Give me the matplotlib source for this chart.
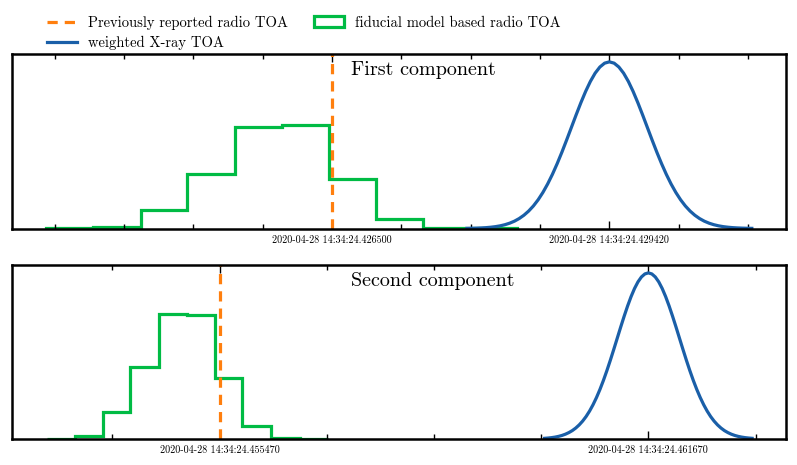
import numpy as np
import matplotlib
matplotlib.use("Agg")
import matplotlib.pyplot as plt
from matplotlib.lines import Line2D
from matplotlib.patches import Patch

plt.rcParams["font.family"] = ["cmr10", "DejaVu Serif"]
plt.rcParams["axes.unicode_minus"] = False
plt.rcParams["mathtext.fontset"] = "cm"

# ---- data (time offsets in ms from the reported radio TOA) ----
comp_names = ["First component", "Second component"]
radio_labels = ["2020-04-28 14:34:24.426500", "2020-04-28 14:34:24.455470"]
xray_labels = ["2020-04-28 14:34:24.429420", "2020-04-28 14:34:24.461670"]
xray_offset = [2.92, 6.20]          # ms, X-ray TOA - radio TOA
xlims = [(-3.37, 4.78), (-3.00, 8.19)]

# fiducial-model radio TOA histograms (bin edges in ms, heights rel. to X-ray peak)
hist1_edges = [-3.01, -2.52, -2.01, -1.53, -1.02, -0.53, -0.03, 0.46, 0.96, 1.45, 1.95]
hist1_vals = [0.002, 0.010, 0.110, 0.325, 0.611, 0.621, 0.299, 0.058, 0.004, 0.001]
hist2_edges = [-2.50, -2.09, -1.69, -1.29, -0.88, -0.47, -0.07, 0.33, 0.74, 1.16, 1.57]
hist2_vals = [0.001, 0.018, 0.160, 0.435, 0.753, 0.749, 0.369, 0.081, 0.006, 0.002]

# weighted X-ray TOA profiles: one symmetric half (|dt| from X-ray TOA in ms)
half_dt = [0.0, 0.05, 0.10, 0.15, 0.20, 0.25, 0.30, 0.35, 0.40, 0.45, 0.50,
           0.55, 0.60, 0.65, 0.70, 0.75, 0.80, 0.85, 0.90, 0.95, 1.00,
           1.05, 1.10, 1.15, 1.20, 1.25, 1.30, 1.35, 1.40, 1.45, 1.50]
prof1_half = [1.0, 0.9922, 0.9690, 0.9321, 0.8825, 0.8226, 0.7548, 0.6819,
              0.6065, 0.5311, 0.4578, 0.3886, 0.3247, 0.2671, 0.2163, 0.1724,
              0.1353, 0.1046, 0.0796, 0.0596, 0.0439, 0.0319, 0.0228, 0.0160,
              0.0111, 0.0076, 0.0051, 0.0034, 0.0022, 0.0014, 0.0009]
prof2_half = [1.0, 0.9938, 0.9756, 0.9460, 0.9060, 0.8570, 0.8007, 0.7390,
              0.6738, 0.6065, 0.5394, 0.4738, 0.4111, 0.3523, 0.2982, 0.2494,
              0.2060, 0.1680, 0.1353, 0.1077, 0.0847, 0.0657, 0.0503, 0.0382,
              0.0286, 0.0211, 0.0154, 0.0111, 0.0079, 0.0056, 0.0039]

prof_dt = [-d for d in half_dt[::-1]] + half_dt[1:]
prof1 = prof1_half[::-1] + prof1_half[1:]
prof2 = prof2_half[::-1] + prof2_half[1:]

C_RADIO = "#ff7f0e"
C_FID = "#00bb44"
C_XRAY = "#1a5fa8"

fig = plt.figure(figsize=(7.97, 4.65), dpi=100)
axes = [fig.add_axes([0.0151, 0.5086, 0.9711, 0.3763]),
        fig.add_axes([0.0151, 0.0560, 0.9711, 0.3750])]

hists = [(hist1_edges, hist1_vals), (hist2_edges, hist2_vals)]
profs = [prof1, prof2]
text_x = [0.531, 0.543]

for i, ax in enumerate(axes):
    edges, vals = hists[i]
    ax.stairs(vals, edges, color=C_FID, lw=2.3)
    ax.plot(np.array(prof_dt) + xray_offset[i], profs[i], color=C_XRAY, lw=2.3)
    ax.axvline(0.0, color=C_RADIO, ls=(0, (3.2, 2.2)), lw=2.3)
    ax.set_yticks([])
    step = xray_offset[i] / 4
    minor = [k*step for k in range(-6, 12) if k not in (0, 4)]
    ax.set_xticks([0.0, xray_offset[i]], [radio_labels[i], xray_labels[i]])
    ax.set_xticks(minor, minor=True)
    ax.set_xlim(*xlims[i])
    ax.set_ylim(0, 1.05)
    ax.tick_params(which="both", direction="in", top=True, width=1.0,
                   labelsize=7.3, pad=5)
    ax.tick_params(which="major", length=6)
    ax.tick_params(which="minor", length=3.5)
    for s in ax.spines.values():
        s.set_linewidth(1.8)
    ax.text(text_x[i], 0.905, comp_names[i], transform=ax.transAxes,
            ha="center", va="center", fontsize=14.5)

handles = [Line2D([], [], color=C_RADIO, ls=(0, (3.2, 2.2)), lw=2.3),
           Line2D([], [], color=C_XRAY, lw=2.3),
           Patch(facecolor="none", edgecolor=C_FID, lw=2.3)]
labels = ["Previously reported radio TOA", "weighted X-ray TOA",
          "fiducial model based radio TOA"]
fig.legend(handles, labels, ncol=2, loc="upper left",
           bbox_to_anchor=(0.043, 0.995), frameon=False, fontsize=10.5,
           handlelength=2.0, columnspacing=1.8, labelspacing=0.45)

fig.savefig("out.png", dpi=100)
